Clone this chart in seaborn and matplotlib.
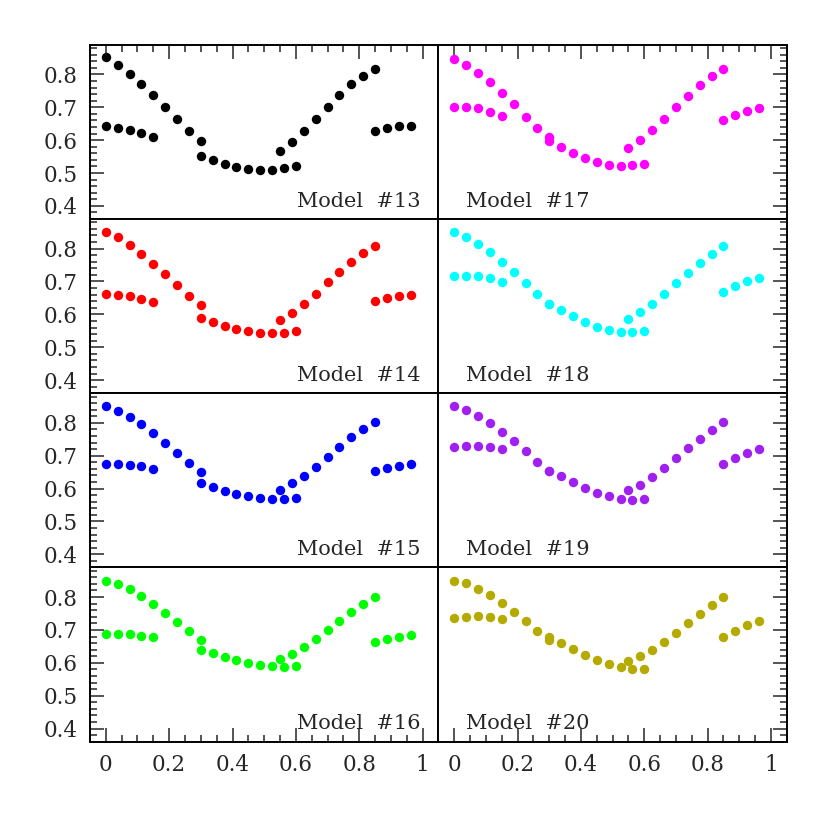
import numpy as np
import pandas as pd
import matplotlib
matplotlib.use("Agg")
import matplotlib.pyplot as plt
import seaborn as sns
from matplotlib.ticker import MultipleLocator, FuncFormatter

# phase positions of the two branches (shared by all models)
x_upper = [0, 0.0375, 0.075, 0.1125, 0.15, 0.1875, 0.225, 0.2625, 0.3,
           0.55, 0.5875, 0.625, 0.6625, 0.7, 0.7375, 0.775, 0.8125, 0.85]
x_lower = [0, 0.0375, 0.075, 0.1125, 0.15,
           0.3, 0.3375, 0.375, 0.4125, 0.45, 0.4875, 0.525, 0.5625, 0.6,
           0.85, 0.8875, 0.925, 0.9625]

models = [13, 17, 14, 18, 15, 19, 16, 20]
colors = ['black', '#ff00ff', '#ff0000', '#00ffff',
          '#0000ff', '#a020f0', '#00ff00', '#b4aa00']

upper = {
    13: [0.852, 0.829, 0.802, 0.772, 0.736, 0.701, 0.663, 0.629, 0.597,
         0.566, 0.593, 0.629, 0.663, 0.701, 0.736, 0.770, 0.794, 0.816],
    14: [0.850, 0.834, 0.811, 0.785, 0.753, 0.722, 0.690, 0.657, 0.627,
         0.582, 0.604, 0.632, 0.663, 0.697, 0.729, 0.759, 0.786, 0.807],
    15: [0.850, 0.836, 0.819, 0.796, 0.769, 0.739, 0.709, 0.679, 0.651,
         0.597, 0.617, 0.639, 0.667, 0.697, 0.728, 0.756, 0.782, 0.803],
    16: [0.850, 0.839, 0.823, 0.803, 0.778, 0.751, 0.724, 0.696, 0.669,
         0.611, 0.626, 0.648, 0.672, 0.700, 0.728, 0.755, 0.780, 0.800],
    17: [0.848, 0.829, 0.805, 0.776, 0.742, 0.709, 0.671, 0.638, 0.609,
         0.577, 0.601, 0.632, 0.665, 0.701, 0.735, 0.767, 0.795, 0.815],
    18: [0.850, 0.835, 0.815, 0.790, 0.760, 0.728, 0.696, 0.663, 0.633,
         0.585, 0.606, 0.633, 0.662, 0.694, 0.726, 0.757, 0.784, 0.808],
    19: [0.850, 0.838, 0.822, 0.800, 0.773, 0.744, 0.713, 0.682, 0.655,
         0.595, 0.612, 0.635, 0.662, 0.692, 0.722, 0.752, 0.779, 0.802],
    20: [0.850, 0.842, 0.826, 0.807, 0.782, 0.755, 0.727, 0.698, 0.678,
         0.604, 0.620, 0.639, 0.664, 0.692, 0.720, 0.749, 0.776, 0.799],
}
lower = {
    13: [0.643, 0.638, 0.632, 0.621, 0.610,
         0.553, 0.540, 0.528, 0.518, 0.513, 0.508, 0.509, 0.516, 0.522,
         0.628, 0.636, 0.642, 0.644],
    14: [0.661, 0.660, 0.655, 0.648, 0.639,
         0.589, 0.577, 0.566, 0.555, 0.548, 0.543, 0.542, 0.544, 0.549,
         0.640, 0.650, 0.656, 0.660],
    15: [0.676, 0.676, 0.673, 0.668, 0.661,
         0.617, 0.605, 0.594, 0.583, 0.576, 0.570, 0.568, 0.568, 0.571,
         0.652, 0.662, 0.668, 0.674],
    16: [0.689, 0.689, 0.688, 0.683, 0.678,
         0.639, 0.629, 0.618, 0.607, 0.598, 0.593, 0.590, 0.588, 0.591,
         0.662, 0.671, 0.679, 0.686],
    17: [0.702, 0.702, 0.697, 0.687, 0.674,
         0.598, 0.579, 0.560, 0.545, 0.533, 0.524, 0.521, 0.523, 0.528,
         0.660, 0.676, 0.690, 0.698],
    18: [0.716, 0.718, 0.716, 0.710, 0.699,
         0.632, 0.612, 0.594, 0.577, 0.563, 0.553, 0.547, 0.546, 0.549,
         0.667, 0.686, 0.700, 0.711],
    19: [0.726, 0.731, 0.731, 0.726, 0.719,
         0.654, 0.638, 0.620, 0.602, 0.587, 0.577, 0.569, 0.566, 0.567,
         0.674, 0.693, 0.707, 0.719],
    20: [0.735, 0.740, 0.742, 0.740, 0.734,
         0.670, 0.659, 0.641, 0.624, 0.609, 0.596, 0.587, 0.582, 0.582,
         0.680, 0.698, 0.714, 0.726],
}

sns.set_style("ticks")
plt.rcParams['font.family'] = ['DejaVu Serif']

fig, axes = plt.subplots(4, 2, figsize=(8.3, 8.3), dpi=100, sharex=True, sharey=True,
                         gridspec_kw={'hspace': 0, 'wspace': 0})
fig.subplots_adjust(left=0.1084, right=0.948, top=0.946, bottom=0.1064)

for i, (m, c) in enumerate(zip(models, colors)):
    row, col = divmod(i, 2)
    ax = axes[row, col]
    df = pd.DataFrame({'phase': x_upper + x_lower,
                       'value': upper[m] + lower[m]})
    sns.scatterplot(data=df, x='phase', y='value', color=c, s=46,
                    linewidth=0, ax=ax)
    ax.set_xlim(-0.05, 1.05)
    ax.set_ylim(0.36, 0.89)
    ax.set_xlabel('')
    ax.set_ylabel('')
    ax.xaxis.set_major_locator(MultipleLocator(0.2))
    ax.xaxis.set_minor_locator(MultipleLocator(0.05))
    ax.yaxis.set_major_locator(MultipleLocator(0.1))
    ax.yaxis.set_minor_locator(MultipleLocator(0.02))
    ax.xaxis.set_major_formatter(FuncFormatter(lambda v, p: '%g' % round(v, 2)))
    ax.tick_params(which='both', direction='in', width=1.1,
                   left=(col == 0), right=(col == 1),
                   top=(row == 0), bottom=(row == 3),
                   labelleft=(col == 0), labelright=False,
                   labelbottom=(row == 3), labeltop=False,
                   labelsize=15.5, pad=9)
    ax.tick_params(which='major', length=10)
    ax.tick_params(which='minor', length=5)
    for sp in ax.spines.values():
        sp.set_linewidth(1.4)
        sp.set_color('black')
    if col == 0:
        ax.text(0.95, 0.07, 'Model  #%d' % m, transform=ax.transAxes,
                ha='right', va='baseline', fontsize=15)
    else:
        ax.text(0.078, 0.07, 'Model  #%d' % m, transform=ax.transAxes,
                ha='left', va='baseline', fontsize=15)

fig.savefig('out.png', dpi=100, facecolor='white')
